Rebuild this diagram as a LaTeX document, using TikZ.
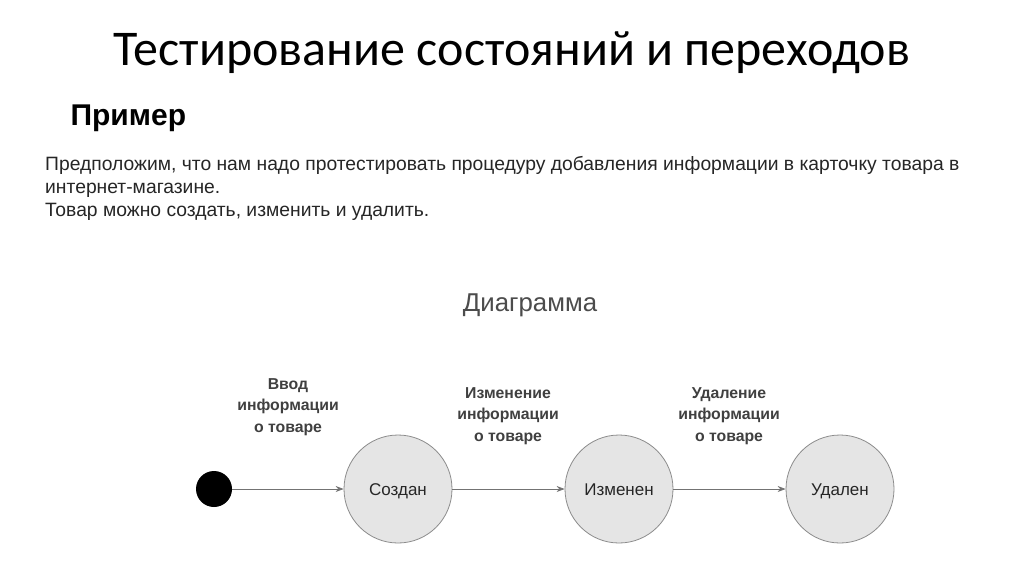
\documentclass[tikz,border=0pt]{standalone}
\usepackage{fontspec}
\setmainfont{Liberation Sans}
\newfontfamily\titlefont{Carlito}
\usetikzlibrary{arrows.meta}
\begin{document}
\begin{tikzpicture}[x=1pt,y=-1pt,
  state/.style={circle,draw=black!45,line width=0.8pt,fill=black!10,minimum size=108pt,inner sep=0pt,font=\fontsize{17}{19}\selectfont,text=black!85,text height=12pt,text depth=0pt},
  lbl/.style={align=center,font=\bfseries\fontsize{15.8}{21.5}\selectfont,text=black!75},
  arr/.style={draw=black!55,line width=0.7pt,-{Stealth[length=8pt,width=6pt]}}]
\useasboundingbox[fill=white] (0,0) rectangle (1024,574);
\node (title) at (512,53) {\titlefont\fontsize{50}{54}\selectfont Тестирование состояний и переходов};
\node[anchor=west] (ex) at (67,118) {\bfseries\fontsize{30}{34}\selectfont Пример};
\node[anchor=north west,align=left,font=\fontsize{19.3}{23}\selectfont,inner sep=0pt,text=black!85] (para) at (45,156)
 {Предположим, что нам надо протестировать процедуру добавления информации в карточку товара в\\
  интернет-магазине.\\
  Товар можно создать, изменить и удалить.};
\node[text=black!70,font=\fontsize{25.8}{28}\selectfont] (dg) at (530,305) {Диаграмма};
\node[circle,fill=black,minimum size=36pt,inner sep=0pt] (start) at (214,489) {};
\node[state] (s1) at (398,489) {Создан};
\node[state] (s2) at (619,489) {Изменен};
\node[state] (s3) at (840,489) {Удален};
\draw[arr] (start) -- (s1);
\draw[arr] (s1) -- (s2);
\draw[arr] (s2) -- (s3);
\node[lbl] (l1) at (288,407) {Ввод\\информации\\о товаре};
\node[lbl] (l2) at (508,416) {Изменение\\информации\\о товаре};
\node[lbl] (l3) at (729,416) {Удаление\\информации\\о товаре};
\end{tikzpicture}
\end{document}
